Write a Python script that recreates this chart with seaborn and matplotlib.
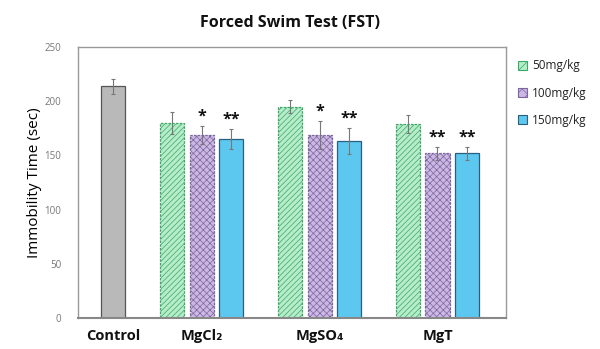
import numpy as np
import pandas as pd
import seaborn as sns
import matplotlib.pyplot as plt
from matplotlib.patches import Patch

# ---- data ----
compounds = ["MgCl₂", "MgSO₄", "MgT"]
doses = ["50mg/kg", "100mg/kg", "150mg/kg"]
control_mean = 214
control_err = 7
means = {
    "50mg/kg": [180, 195, 179],
    "100mg/kg": [169, 169, 152],
    "150mg/kg": [165, 163, 152],
}
errs = {
    "50mg/kg": [10, 6, 8],
    "100mg/kg": [8, 13, 6],
    "150mg/kg": [9, 12, 6],
}
stars = {
    "50mg/kg": ["", "", ""],
    "100mg/kg": ["*", "*", "**"],
    "150mg/kg": ["**", "**", "**"],
}

# ---- styles ----
fills = {"50mg/kg": "#b6ecc9", "100mg/kg": "#cdb8e3", "150mg/kg": "#5cc8f0"}
hatch_col = {"50mg/kg": "#3aa867", "100mg/kg": "#7a66a0", "150mg/kg": "#3b8fc0"}
hatches = {"50mg/kg": "//////", "100mg/kg": "xxxxx", "150mg/kg": ""}
edge_col = {"50mg/kg": "#2f4f3a", "100mg/kg": "#3f3550", "150mg/kg": "#2b5f80"}

sns.set_theme(style="white")
plt.rcParams["font.family"] = ["Open Sans", "DejaVu Sans"]
plt.rcParams["hatch.linewidth"] = 0.5

fig = plt.figure(figsize=(6.0, 3.49), dpi=100)
ax = fig.add_axes([0.13, 0.089, 0.713, 0.776])

rows = []
for d in doses:
    for c, m in zip(compounds, means[d]):
        rows.append({"Compound": c, "Dose": d, "Time": m})
df = pd.DataFrame(rows)

sns.barplot(data=df, x="Compound", y="Time", hue="Dose", order=compounds,
            hue_order=doses, width=0.75, gap=0.18, errorbar=None,
            palette=fills, saturation=1, legend=False, ax=ax)

# style patches + error bars + stars
bar_w = 0.75 / 3
for i, d in enumerate(doses):
    cont = ax.containers[i]
    for j, p in enumerate(cont.patches):
        p.set_hatch(hatches[d])
        p.set_edgecolor(hatch_col[d] if hatches[d] else edge_col[d])
        p.set_linewidth(0.9)
        p.set_linestyle((0, (2, 1)) if hatches[d] else "-")
        x = p.get_x() + p.get_width() / 2
        ax.errorbar(x, means[d][j], yerr=errs[d][j], color="#777777",
                    lw=0.8, capsize=1.5, capthick=0.8)
        if stars[d][j]:
            ax.annotate(stars[d][j], (x, means[d][j] + errs[d][j]),
                        xytext=(0, 1), textcoords="offset points",
                        ha="center", va="bottom", fontsize=11.5,
                        fontweight="bold", color="#111111")

# control bar, sits closer to the first group
ctrl_x = 0 - 0.754
ax.bar(ctrl_x, control_mean, width=bar_w * 0.82, color="#b9b9b9",
       edgecolor="#555555", linewidth=0.9)
ax.errorbar(ctrl_x, control_mean, yerr=control_err, color="#777777",
            lw=0.8, capsize=1.5, capthick=0.8)

ax.set_xlim(-1.05, 2.58)
ax.set_ylim(0, 250)
ax.set_yticks([0, 50, 100, 150, 200, 250])
ax.set_xticks([ctrl_x, 0, 1, 2])
ax.set_xticklabels(["Control"] + compounds, fontsize=10.5, fontweight="bold",
                   color="#111111")
ax.tick_params(axis="y", labelsize=7, colors="#777777", length=0, pad=12)
ax.tick_params(axis="x", length=0, pad=8)
ax.set_xlabel("")
ax.set_ylabel("Immobility Time (sec)", fontsize=11, color="#000000", labelpad=2)
for s in ax.spines.values():
    s.set_color("#999999")
    s.set_linewidth(1.0)
ax.spines["bottom"].set_color("#888888")
ax.spines["bottom"].set_linewidth(1.5)

fig.text(0.483, 0.935, "Forced Swim Test (FST)", ha="center", va="center",
         fontsize=11.5, fontweight="bold", color="#111111")

handles = [Patch(facecolor=fills[d], edgecolor=hatch_col[d] if hatches[d] else edge_col[d],
                 hatch=hatches[d][:3], linewidth=0.8, label=d) for d in doses]
fig.legend(handles=handles, loc="upper left", bbox_to_anchor=(0.845, 0.86),
           frameon=False, fontsize=8.5, handlelength=0.8, handleheight=0.8,
           handletextpad=0.4, labelspacing=1.2, labelcolor="#222222")

fig.savefig("out.png", dpi=100)
